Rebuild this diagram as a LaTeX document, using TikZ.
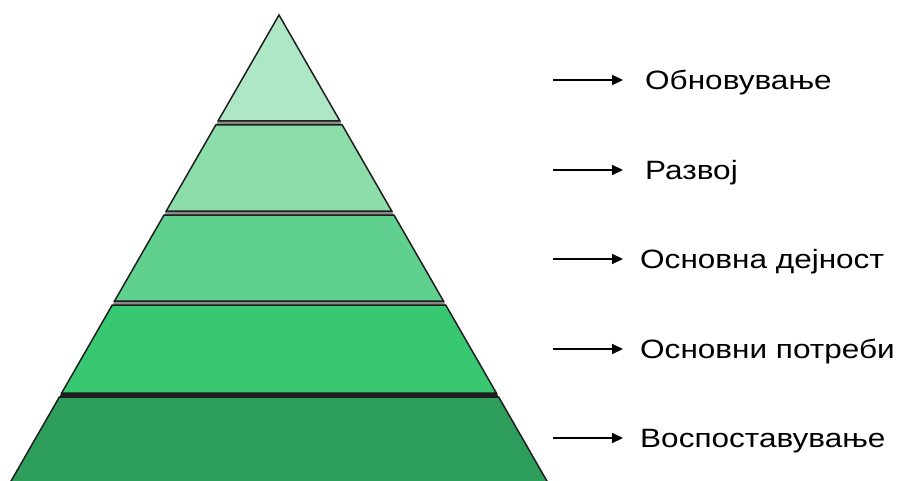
\documentclass[tikz,border=0pt]{standalone}
\usepackage{fontspec}
\newfontfamily\lab[FakeStretch=1.19]{Liberation Sans}
\usetikzlibrary{arrows.meta}
\definecolor{cA}{HTML}{AEE7C6}
\definecolor{cB}{HTML}{8CDDAA}
\definecolor{cC}{HTML}{5FD08E}
\definecolor{cD}{HTML}{38C872}
\definecolor{cE}{HTML}{2E9E5C}
\definecolor{edge}{HTML}{1E1E1E}
\definecolor{gapc}{HTML}{8A8A8A}
\tikzset{
  layer/.style={draw=edge, line width=1.5pt, line join=miter},
  arr/.style={line width=2.1pt, -{Triangle[length=11pt,width=10pt]}},
  lbl/.style={anchor=base west, inner sep=0pt, font={\lab\fontsize{26.5}{30}\selectfont}}
}
\begin{document}
\begin{tikzpicture}[x=1pt,y=-1pt]
\useasboundingbox (0,0) rectangle (904,481);
\begin{scope}
\clip (0,0) rectangle (904,481);
% gap background
\fill[gapc] (279,15) -- (5.9,490) -- (552.1,490) -- cycle;
% layers
\filldraw[layer, fill=cA] (279,15) -- (218.05,121) -- (339.95,121) -- cycle;
\filldraw[layer, fill=cB] (215.75,125) -- (166.3,211) -- (391.7,211) -- (342.25,125) -- cycle;
\filldraw[layer, fill=cC] (164,215) -- (114.55,301) -- (443.45,301) -- (394,215) -- cycle;
\filldraw[layer, fill=cD] (112.25,305) -- (61.65,393) -- (496.35,393) -- (445.75,305) -- cycle;
\fill[edge] (61.65,393) -- (59.35,397) -- (498.65,397) -- (496.35,393) -- cycle;
\filldraw[layer, fill=cE] (59.35,397) -- (5.9,490) -- (552.1,490) -- (498.65,397) -- cycle;
\end{scope}
% arrows and labels
\coordinate (s1) at (553,80);  \coordinate (e1) at (623,80);
\coordinate (s2) at (553,170); \coordinate (e2) at (623,170);
\coordinate (s3) at (553,259); \coordinate (e3) at (623,259);
\coordinate (s4) at (553,349); \coordinate (e4) at (623,349);
\coordinate (s5) at (553,438); \coordinate (e5) at (623,438);
\node[lbl] (t1) at (645,89.5) {Обновување};
\node[lbl] (t2) at (645,179.5) {Развој};
\node[lbl] (t3) at (640,268.5) {Основна дејност};
\node[lbl] (t4) at (640,358.5) {Основни потреби};
\node[lbl] (t5) at (640,447.5) {Воспоставување};
\foreach \i in {1,...,5} \draw[arr] (s\i) -- (e\i);
\end{tikzpicture}
\end{document}
